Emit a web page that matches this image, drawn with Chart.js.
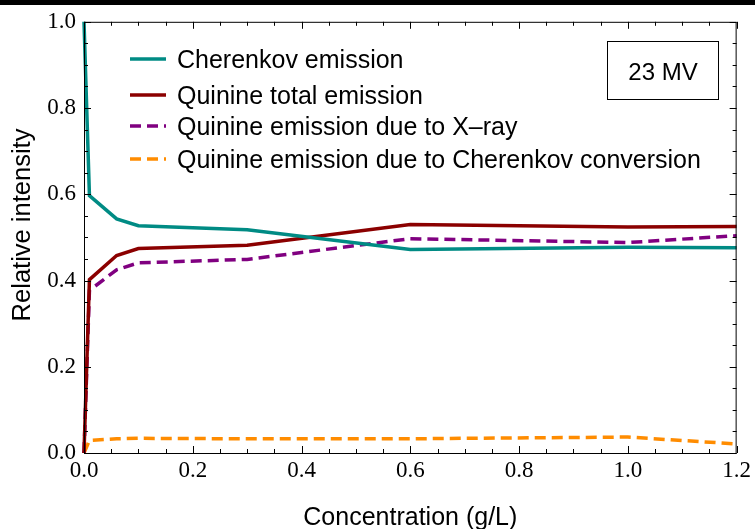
<!DOCTYPE html>
<html><head><meta charset="utf-8">
<script src="https://cdn.jsdelivr.net/npm/chart.js@4"></script>
<style>html,body{margin:0;padding:0;background:#fff;}#wrap{width:755px;height:529px;position:relative;}</style>
</head><body><div id="wrap"><canvas id="c" width="755" height="529"></canvas></div>
<script>
const concentration = [0, 0.01, 0.06, 0.1, 0.3, 0.6, 1.0, 1.2];
const cherenkov     = [1.0, 0.597, 0.543, 0.527, 0.518, 0.472, 0.477, 0.476];
const quinineTotal  = [0.0, 0.402, 0.458, 0.474, 0.482, 0.530, 0.524, 0.525];
const quinineXray   = [0.0, 0.377, 0.425, 0.441, 0.449, 0.497, 0.488, 0.504];
const quinineCher   = [0.0, 0.029, 0.033, 0.034, 0.033, 0.033, 0.037, 0.021];
const seriesLabels = ["Cherenkov emission","Quinine total emission","Quinine emission due to X\u2013ray","Quinine emission due to Cherenkov conversion"];
const annotationText = "23 MV";
const xTitle = "Concentration (g/L)";
const yTitle = "Relative intensity";

function pts(ys){ return concentration.map((x,i)=>({x:x,y:ys[i]})); }
const colors = ["#008b84","#8b0000","#800080","#ff8c00"];
const dashes = [[],[],[11,6],[11,6]];
const allSeries = [cherenkov, quinineTotal, quinineXray, quinineCher];
const SANS = '"Liberation Sans", Arial, sans-serif';

const decor = {
  id:'decor',
  beforeDraw(chart){
    const ctx = chart.ctx;
    ctx.save(); ctx.fillStyle='#000'; ctx.fillRect(0,0,755,5); ctx.restore();
  },
  afterDraw(chart){
    const ctx = chart.ctx, a = chart.chartArea;
    const xs = chart.scales.x, ys = chart.scales.y;
    ctx.save();
    ctx.strokeStyle='#000'; ctx.lineWidth=1;
    ctx.strokeRect(a.left+0.5, a.top+0.5, a.right-a.left-1, a.bottom-a.top);
    ctx.beginPath();
    for(let k=0;k<=24;k++){
      const v=k*0.05; const px=Math.round(xs.getPixelForValue(v))+0.5;
      const L=(k%4===0)?7:4;
      ctx.moveTo(px,a.bottom); ctx.lineTo(px,a.bottom-L);
      ctx.moveTo(px,a.top); ctx.lineTo(px,a.top+L);
    }
    for(let k=0;k<=20;k++){
      const v=k*0.05; const py=Math.round(ys.getPixelForValue(v))+0.5;
      const L=(k%4===0)?7:4;
      ctx.moveTo(a.left,py); ctx.lineTo(a.left+L,py);
      ctx.moveTo(a.right,py); ctx.lineTo(a.right-L,py);
    }
    ctx.stroke();
    // legend
    const rows=[59,95,126,159];
    ctx.font='25px '+SANS;
    ctx.textBaseline='alphabetic'; ctx.textAlign='left';
    chart.data.datasets.forEach((ds,i)=>{
      ctx.beginPath(); ctx.setLineDash(ds.borderDash||[]);
      ctx.strokeStyle=ds.borderColor; ctx.lineWidth=3.5;
      ctx.moveTo(130,rows[i]); ctx.lineTo(166,rows[i]); ctx.stroke();
      ctx.setLineDash([]);
      ctx.fillStyle='#000'; ctx.fillText(ds.label,177,rows[i]+9);
    });
    // annotation box
    ctx.strokeStyle='#000'; ctx.lineWidth=1;
    ctx.strokeRect(607.5,41.5,111,58);
    ctx.font='24px '+SANS;
    ctx.textAlign='center'; ctx.fillText(annotationText,663,80);
    // axis titles
    ctx.font='25px '+SANS;
    ctx.fillText(xTitle,(a.left+a.right)/2,525);
    ctx.translate(30,225); ctx.rotate(-Math.PI/2);
    ctx.font='25.5px '+SANS;
    ctx.fillText(yTitle,0,0);
    ctx.restore();
  }
};

new Chart(document.getElementById('c'),{
  type:'line',
  data:{datasets: allSeries.map((s,i)=>({
    label:seriesLabels[i], data:pts(s), borderColor:colors[i], backgroundColor:colors[i],
    borderWidth:3.5, borderDash:dashes[i], pointRadius:0, tension:0, fill:false, clip:4
  }))},
  options:{
    responsive:false, animation:false,
    layout:{padding:{left:0,top:21,right:18,bottom:0}},
    plugins:{legend:{display:false},tooltip:{enabled:false}},
    scales:{
      x:{type:'linear',min:0,max:1.2,
        ticks:{stepSize:0.2,padding:4,color:'#000',font:{family:'"Liberation Serif", "Times New Roman", serif',size:23},callback:v=>v.toFixed(1),maxRotation:0},
        grid:{display:false,drawTicks:false}, border:{display:false},
        afterFit(s){ s.height=76; }},
      y:{min:0,max:1,
        ticks:{stepSize:0.2,padding:8,color:'#000',font:{family:'"Liberation Serif", "Times New Roman", serif',size:23},callback:v=>v.toFixed(1)},
        grid:{display:false,drawTicks:false}, border:{display:false},
        afterFit(s){ s.width=84; }}
    }
  },
  plugins:[decor]
});
</script></body></html>
